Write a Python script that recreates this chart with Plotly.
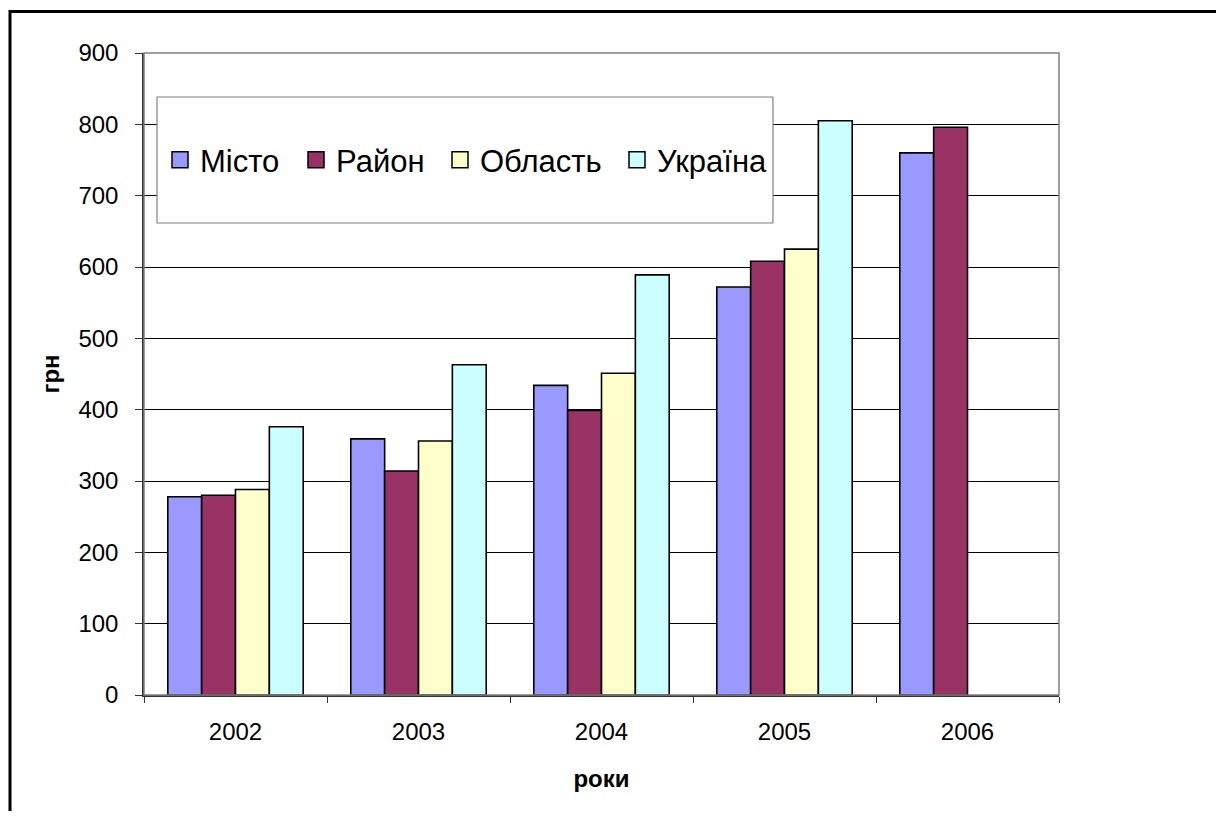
import plotly.graph_objects as go

years = ["2002", "2003", "2004", "2005", "2006"]
misto = [278, 359, 434, 572, 760]
raion = [280, 314, 399, 608, 796]
oblast = [288, 356, 451, 625, None]
ukraina = [376, 463, 589, 805, None]

series_names = ["Місто", "Район", "Область", "Україна"]
series_values = [misto, raion, oblast, ukraina]
series_colors = ["#9999FF", "#993366", "#FFFFCC", "#CCFFFF"]

# page body has an 8px margin: work in screen pixels, convert to figure pixels
OFF = 8
W, H = 1216, 803
L, R, T, B = 144 - OFF, 1059 - OFF, 53 - OFF, 695 - OFF
pw, ph = R - L, B - T


def px(x):
    return (x - OFF - L) / pw


def py(y):
    return (B - (y - OFF)) / ph


FONT = "Arial, Liberation Sans, sans-serif"

fig = go.Figure()
legend_ids = ["legend", "legend2", "legend3", "legend4"]
for name, vals, col, lg in zip(series_names, series_values, series_colors, legend_ids):
    fig.add_trace(go.Bar(
        x=years, y=vals, name=name, showlegend=False, legendgroup=name,
        marker=dict(color=col, line=dict(color="black", width=1.6)),
    ))
    # legend swatch (larger square than the default bar swatch)
    fig.add_trace(go.Scatter(
        x=[None], y=[None], name=name, mode="markers", legendgroup=name,
        legend=lg, showlegend=True,
        marker=dict(symbol="square", size=19, color=col, line=dict(color="black", width=1.5)),
    ))

# square centres of the legend entries (screen px)
legend_centres = [180, 316, 460, 637]
leg_common = dict(
    orientation="h", yanchor="middle", xanchor="left",
    bgcolor="rgba(0,0,0,0)", borderwidth=0,
    font=dict(family=FONT, size=31, color="black"),
    itemsizing="trace",
)
legend_layout = {}
for lg, cx in zip(legend_ids, legend_centres):
    legend_layout[lg] = dict(leg_common, x=px(cx - 20), y=py(160))

fig.update_layout(
    width=W, height=H,
    margin=dict(l=L, r=W - R, t=T, b=H - B, autoexpand=False),
    paper_bgcolor="white", plot_bgcolor="white",
    barmode="group", bargap=0.26, bargroupgap=0,
    font=dict(family=FONT, color="black"),
    showlegend=True,
    xaxis=dict(
        type="category", tickson="boundaries", ticks="outside", ticklen=6,
        tickcolor="#333", showline=True, linecolor="#333", linewidth=1.5,
        showgrid=False, tickfont=dict(size=24, family=FONT), ticklabelstandoff=14,
        title=dict(text="<b>роки</b>", font=dict(size=24, family=FONT), standoff=27),
    ),
    yaxis=dict(
        range=[0, 900], dtick=100, ticks="outside", ticklen=7, tickcolor="#333",
        showline=True, linecolor="#333", linewidth=1.5,
        showgrid=True, gridcolor="black", gridwidth=1, zeroline=False,
        tickfont=dict(size=24, family=FONT), ticklabelstandoff=12,
        title=dict(text="<b>грн</b>", font=dict(size=24, family=FONT), standoff=12),
    ),
    shapes=[
        # plot area border (gray)
        dict(type="rect", xref="paper", yref="paper", x0=0, x1=1, y0=0, y1=1,
             line=dict(color="#808080", width=1.5), fillcolor="rgba(0,0,0,0)", layer="above"),
        # legend box
        dict(type="rect", xref="paper", yref="paper", x0=px(157), x1=px(773),
             y0=py(223), y1=py(97), line=dict(color="#808080", width=1.2),
             fillcolor="white", layer="above"),
        # outer frame
        dict(type="rect", xref="paper", yref="paper", x0=px(10), x1=px(1400),
             y0=py(1000), y1=py(11.5), line=dict(color="black", width=3),
             fillcolor="rgba(0,0,0,0)", layer="above"),
    ],
    **legend_layout,
)

fig.write_html("out.html")
